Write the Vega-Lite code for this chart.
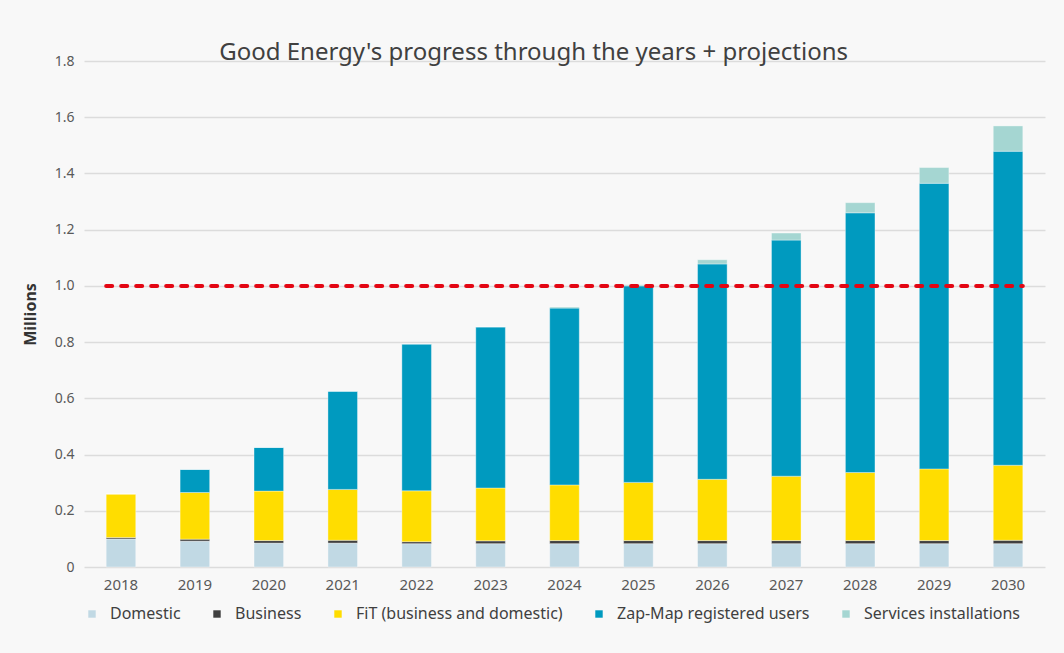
{
  "$schema": "https://vega.github.io/schema/vega-lite/v6.json",
  "width": 1064,
  "height": 653,
  "autosize": {"type": "fit", "contains": "padding"},
  "padding": {"left": 22, "right": 19, "top": 41, "bottom": 31},
  "background": "#f8f8f8",
  "title": {
    "text": "Good Energy's progress through the years + projections",
    "font": "Noto Sans",
    "fontSize": 24,
    "fontWeight": "normal",
    "color": "#404040",
    "anchor": "middle",
    "frame": "bounds",
    "offset": -11
  },
  "config": {
    "font": "Noto Sans",
    "view": {"stroke": null},
    "axis": {"labelColor": "#595959", "labelFontSize": 14, "labelFont": "Noto Sans"}
  },
  "datasets": {
    "bars": [
      {"year": "2018", "series": "Domestic", "value": 0.100},
      {"year": "2018", "series": "Business", "value": 0.005},
      {"year": "2018", "series": "FiT (business and domestic)", "value": 0.155},
      {"year": "2018", "series": "Zap-Map registered users", "value": 0},
      {"year": "2018", "series": "Services installations", "value": 0},
      {"year": "2019", "series": "Domestic", "value": 0.092},
      {"year": "2019", "series": "Business", "value": 0.007},
      {"year": "2019", "series": "FiT (business and domestic)", "value": 0.166},
      {"year": "2019", "series": "Zap-Map registered users", "value": 0.082},
      {"year": "2019", "series": "Services installations", "value": 0},
      {"year": "2020", "series": "Domestic", "value": 0.085},
      {"year": "2020", "series": "Business", "value": 0.009},
      {"year": "2020", "series": "FiT (business and domestic)", "value": 0.176},
      {"year": "2020", "series": "Zap-Map registered users", "value": 0.155},
      {"year": "2020", "series": "Services installations", "value": 0},
      {"year": "2021", "series": "Domestic", "value": 0.085},
      {"year": "2021", "series": "Business", "value": 0.010},
      {"year": "2021", "series": "FiT (business and domestic)", "value": 0.181},
      {"year": "2021", "series": "Zap-Map registered users", "value": 0.349},
      {"year": "2021", "series": "Services installations", "value": 0},
      {"year": "2022", "series": "Domestic", "value": 0.083},
      {"year": "2022", "series": "Business", "value": 0.007},
      {"year": "2022", "series": "FiT (business and domestic)", "value": 0.181},
      {"year": "2022", "series": "Zap-Map registered users", "value": 0.522},
      {"year": "2022", "series": "Services installations", "value": 0},
      {"year": "2023", "series": "Domestic", "value": 0.083},
      {"year": "2023", "series": "Business", "value": 0.010},
      {"year": "2023", "series": "FiT (business and domestic)", "value": 0.188},
      {"year": "2023", "series": "Zap-Map registered users", "value": 0.573},
      {"year": "2023", "series": "Services installations", "value": 0},
      {"year": "2024", "series": "Domestic", "value": 0.083},
      {"year": "2024", "series": "Business", "value": 0.011},
      {"year": "2024", "series": "FiT (business and domestic)", "value": 0.198},
      {"year": "2024", "series": "Zap-Map registered users", "value": 0.629},
      {"year": "2024", "series": "Services installations", "value": 0.004},
      {"year": "2025", "series": "Domestic", "value": 0.083},
      {"year": "2025", "series": "Business", "value": 0.011},
      {"year": "2025", "series": "FiT (business and domestic)", "value": 0.207},
      {"year": "2025", "series": "Zap-Map registered users", "value": 0.699},
      {"year": "2025", "series": "Services installations", "value": 0.004},
      {"year": "2026", "series": "Domestic", "value": 0.083},
      {"year": "2026", "series": "Business", "value": 0.011},
      {"year": "2026", "series": "FiT (business and domestic)", "value": 0.218},
      {"year": "2026", "series": "Zap-Map registered users", "value": 0.766},
      {"year": "2026", "series": "Services installations", "value": 0.015},
      {"year": "2027", "series": "Domestic", "value": 0.083},
      {"year": "2027", "series": "Business", "value": 0.011},
      {"year": "2027", "series": "FiT (business and domestic)", "value": 0.229},
      {"year": "2027", "series": "Zap-Map registered users", "value": 0.840},
      {"year": "2027", "series": "Services installations", "value": 0.025},
      {"year": "2028", "series": "Domestic", "value": 0.083},
      {"year": "2028", "series": "Business", "value": 0.011},
      {"year": "2028", "series": "FiT (business and domestic)", "value": 0.242},
      {"year": "2028", "series": "Zap-Map registered users", "value": 0.924},
      {"year": "2028", "series": "Services installations", "value": 0.036},
      {"year": "2029", "series": "Domestic", "value": 0.083},
      {"year": "2029", "series": "Business", "value": 0.011},
      {"year": "2029", "series": "FiT (business and domestic)", "value": 0.255},
      {"year": "2029", "series": "Zap-Map registered users", "value": 1.016},
      {"year": "2029", "series": "Services installations", "value": 0.056},
      {"year": "2030", "series": "Domestic", "value": 0.083},
      {"year": "2030", "series": "Business", "value": 0.012},
      {"year": "2030", "series": "FiT (business and domestic)", "value": 0.267},
      {"year": "2030", "series": "Zap-Map registered users", "value": 1.117},
      {"year": "2030", "series": "Services installations", "value": 0.090}
    ],
    "target": [{"target": 1.0}]
  },
  "layer": [
    {
      "data": {"name": "bars"},
      "transform": [
        {"calculate": "indexof(['Domestic','Business','FiT (business and domestic)','Zap-Map registered users','Services installations'], datum.series)", "as": "ord"}
      ],
      "mark": {"type": "bar", "stroke": "#ffffff", "strokeWidth": 0.6, "strokeOpacity": 0.6},
      "encoding": {
        "x": {
          "field": "year",
          "type": "ordinal",
          "scale": {"paddingInner": 0.6, "paddingOuter": 0.3},
          "axis": {
            "title": null,
            "labelAngle": 0,
            "ticks": false,
            "domain": false,
            "labelPadding": 10,
            "labelFontSize": 15,
            "grid": false
          }
        },
        "y": {
          "field": "value",
          "type": "quantitative",
          "stack": "zero",
          "scale": {"domain": [0, 1.8]},
          "axis": {
            "title": "Millions",
            "titleFont": "Noto Sans",
            "titleFontSize": 16,
            "titleFontWeight": "bold",
            "titleColor": "#333333",
            "titlePadding": 16,
            "values": [0, 0.2, 0.4, 0.6, 0.8, 1.0, 1.2, 1.4, 1.6, 1.8],
            "labelExpr": "datum.value == 0 ? '0' : format(datum.value, '.1f')",
            "ticks": false,
            "domain": false,
            "labelPadding": 10,
            "gridColor": "#dcdcdc",
            "gridWidth": 1.5
          }
        },
        "color": {
          "field": "series",
          "type": "nominal",
          "scale": {
            "domain": ["Domestic", "Business", "FiT (business and domestic)", "Zap-Map registered users", "Services installations"],
            "range": ["#c1d9e4", "#404040", "#ffdd00", "#009abf", "#a5d6d2"]
          },
          "legend": {
            "title": null,
            "orient": "bottom",
            "direction": "horizontal",
            "symbolType": "square",
            "symbolSize": 55,
            "symbolStrokeWidth": 0,
            "labelFontSize": 16,
            "labelFont": "Noto Sans",
            "labelColor": "#404040",
            "labelLimit": 400,
            "columnPadding": 28,
            "labelOffset": 10,
            "offset": 14
          }
        },
        "order": {"field": "ord", "type": "quantitative"}
      }
    },
    {
      "data": {"name": "target"},
      "mark": {"type": "rule", "color": "#e30613", "strokeWidth": 4, "strokeDash": [6, 9], "strokeCap": "round"},
      "encoding": {
        "y": {"field": "target", "type": "quantitative"},
        "x": {"datum": "2018", "type": "ordinal", "bandPosition": 0},
        "x2": {"datum": "2030", "bandPosition": 1}
      }
    }
  ]
}
